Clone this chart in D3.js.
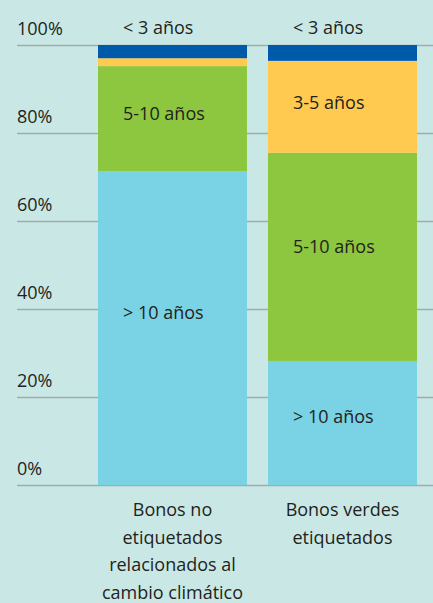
<!DOCTYPE html>
<html>
<head>
<meta charset="utf-8">
<script src="https://cdn.jsdelivr.net/npm/d3@7"></script>
<style>
  html, body { margin: 0; padding: 0; background: #c9e8e5; }
  svg { display: block; font-family: "Open Sans", sans-serif; }
  .grid line { stroke: #a3abb0; stroke-width: 1.5; }
  .grid text, .lbl, .cat { fill: #231f20; font-size: 18px; }
</style>
</head>
<body>
<script>
// categories and maturity buckets (bottom to top)
var categories = ["Bonos no etiquetados relacionados al cambio climático", "Bonos verdes etiquetados"];
var catLines = [["Bonos no", "etiquetados", "relacionados al", "cambio climático"], ["Bonos verdes", "etiquetados"]];
var buckets = ["> 10 años", "5-10 años", "3-5 años", "< 3 años"];
var colors = ["#7ad2e5", "#8dc63f", "#ffca4f", "#005aaa"];

// share of each bucket, per category (%)
var over10 = [71.3, 28.2];
var y5to10 = [23.9, 47.3];
var y3to5 = [1.8, 20.9];
var under3 = [3.0, 3.6];

// which bucket labels are shown inside each bar
var showLabel = [[true, true, false, false], [true, true, true, false]];

var yTicks = [0, 20, 40, 60, 80, 100];

var width = 433, height = 603;

var svg = d3.select("body").append("svg")
  .attr("width", width)
  .attr("height", height);

var y = d3.scaleLinear().domain([0, 100]).range([485, 45]);
var x = d3.scaleBand().domain(categories).range([98, 417]).paddingInner(0.1235).paddingOuter(0);

// gridlines + tick labels
var axis = d3.axisRight(y).tickValues(yTicks).tickSize(width - 17).tickFormat(function(d) { return d + "%"; });
var g = svg.append("g").attr("class", "grid").attr("transform", "translate(17,0)").call(axis);
g.select(".domain").remove();
g.selectAll("text").attr("x", 0).attr("dy", -11).attr("text-anchor", "start")
  .style("font-size", "18px").style("font-family", "Open Sans");

// build stacked data
var table = categories.map(function(c, i) {
  return { cat: c, "> 10 años": over10[i], "5-10 años": y5to10[i], "3-5 años": y3to5[i], "< 3 años": under3[i] };
});
var stack = d3.stack().keys(buckets)(table);

stack.forEach(function(layer, k) {
  svg.append("g").selectAll("rect")
    .data(layer)
    .enter().append("rect")
    .attr("x", function(d) { return x(d.data.cat); })
    .attr("width", x.bandwidth())
    .attr("y", function(d) { return y(d[1]); })
    .attr("height", function(d) { return y(d[0]) - y(d[1]); })
    .attr("fill", colors[k]);
});

// labels inside segments
stack.forEach(function(layer, k) {
  layer.forEach(function(d, i) {
    if (!showLabel[i][k]) return;
    var top = y(d[1]), bot = y(d[0]);
    var cy = (top + bot) / 2 - (bot - top) * 0.05;
    svg.append("text").attr("class", "lbl")
      .attr("x", x(d.data.cat) + 25)
      .attr("y", cy)
      .attr("dy", "0.35em")
      .text(buckets[k]);
  });
});

// "< 3 años" labels above the bars
categories.forEach(function(c) {
  svg.append("text").attr("class", "lbl")
    .attr("x", x(c) + 25)
    .attr("y", y(100) - 11)
    .text(buckets[3]);
});

// category labels under the axis
categories.forEach(function(c, i) {
  var t = svg.append("text").attr("class", "cat")
    .attr("text-anchor", "middle")
    .attr("x", x(c) + x.bandwidth() / 2)
    .attr("y", y(0) + 31);
  catLines[i].forEach(function(line, j) {
    t.append("tspan").attr("x", x(c) + x.bandwidth() / 2).attr("dy", j === 0 ? 0 : 27.5).text(line);
  });
});
</script>
</body>
</html>
